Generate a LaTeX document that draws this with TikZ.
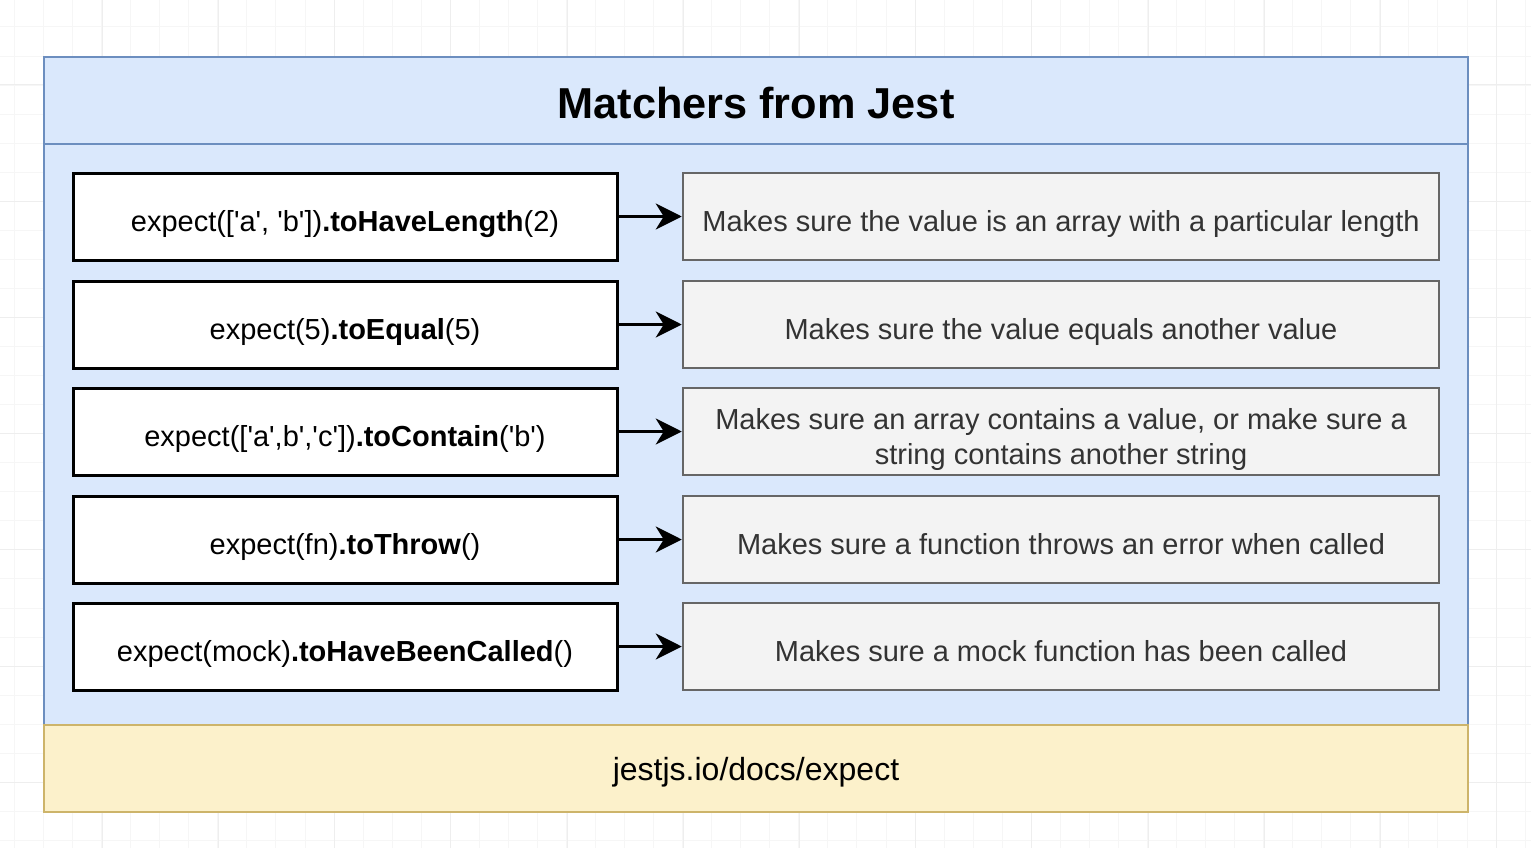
\documentclass[tikz,border=0pt]{standalone}
\usepackage{fontspec}
\setmainfont{Liberation Sans}
\usetikzlibrary{arrows.meta}
\definecolor{bfill}{HTML}{DAE8FC}
\definecolor{bline}{HTML}{6C8EBF}
\definecolor{yfill}{HTML}{FCF1CB}
\definecolor{yline}{HTML}{CDB46A}
\definecolor{gfill}{HTML}{F3F3F3}
\definecolor{gline}{HTML}{666666}
\definecolor{gtext}{HTML}{333333}
\definecolor{gridminor}{HTML}{F6F6F6}
\definecolor{gridmajor}{HTML}{EEEEEE}
\newcommand\sq{\textquotesingle}
\tikzset{
  codebox/.style={draw=black, line width=3pt, fill=white, minimum width=544pt, minimum height=87pt, inner sep=0pt,
    font=\fontsize{29}{34}\selectfont, text=black, text height=32pt, text depth=2pt},
  descbox/.style={draw=gline, line width=2.5pt, fill=gfill, minimum width=756pt, minimum height=87pt, inner sep=0pt,
    font=\fontsize{29}{35}\selectfont, text=gtext, align=center, text height=32pt, text depth=2pt},
  desctext/.style={font=\fontsize{29}{35}\selectfont, text=gtext, align=center, inner sep=0pt},
  conn/.style={line width=3pt, -{Stealth[length=26pt,width=26pt,inset=8pt]}}
}
\begin{document}
\begin{tikzpicture}[x=1pt,y=-1pt]
\useasboundingbox (0,0) rectangle (1531,848);
\fill[white] (0,0) rectangle (1531,848);
% background grid
\foreach \i in {0,...,53} {
  \draw[gridminor, line width=1pt] ({14.5+29.05*\i},0) -- ({14.5+29.05*\i},848);
}
\foreach \i in {0,...,30} {
  \draw[gridminor, line width=1pt] (0,{27+29.05*\i}) -- (1531,{27+29.05*\i});
}
\foreach \i in {0,...,13} {
  \draw[gridmajor, line width=1pt] ({-14+116.2*\i},0) -- ({-14+116.2*\i},848);
}
\foreach \i in {0,...,7} {
  \draw[gridmajor, line width=1pt] (0,{-31.2+116.2*\i}) -- (1531,{-31.2+116.2*\i});
}
% container
\node (cont) [draw=bline, line width=2pt, fill=bfill, minimum width=1424pt, minimum height=668pt, inner sep=0pt] at (756,391) {};
\node (head) [draw=bline, line width=2pt, fill=bfill, minimum width=1424pt, minimum height=87pt, inner sep=0pt,
  font=\fontsize{43.3}{50}\selectfont\bfseries, text height=35.5pt, text depth=0pt] at (756,100.5) {Matchers from Jest};
% link box
\node (link) [draw=yline, line width=2.5pt, fill=yfill, minimum width=1424pt, minimum height=87pt, inner sep=0pt,
  font=\fontsize{32}{36}\selectfont, text height=30pt, text depth=6pt] at (756,768.5) {jestjs.io/docs/expect};
% rows
\node (c1) [codebox] at (345,216.5) {expect([\sq a\sq, \sq b\sq])\textbf{.toHaveLength}(2)};
\node (c2) [codebox] at (345,324.5) {expect(5)\textbf{.toEqual}(5)};
\node (c3) [codebox] at (345,431.5) {expect([\sq a\sq,b\sq,\sq c\sq])\textbf{.toContain}(\sq b\sq)};
\node (c4) [codebox] at (345,539.5) {expect(fn)\textbf{.toThrow}()};
\node (c5) [codebox] at (345,646.5) {expect(mock)\textbf{.toHaveBeenCalled}()};
\node (d1) [descbox] at (1061,216.5) {Makes sure the value is an array with a particular length};
\node (d2) [descbox] at (1061,324.5) {Makes sure the value equals another value};
\node (d3) [descbox] at (1061,431.5) {};
\node (d3t) [desctext] at ([yshift=-8pt]d3.center) {Makes sure an array contains a value, or make sure a\\string contains another string};
\node (d4) [descbox] at (1061,539.5) {Makes sure a function throws an error when called};
\node (d5) [descbox] at (1061,646.5) {Makes sure a mock function has been called};
\foreach \k in {1,...,5} {
  \draw[conn] (c\k.east) -- (d\k.west);
}
\end{tikzpicture}
\end{document}
